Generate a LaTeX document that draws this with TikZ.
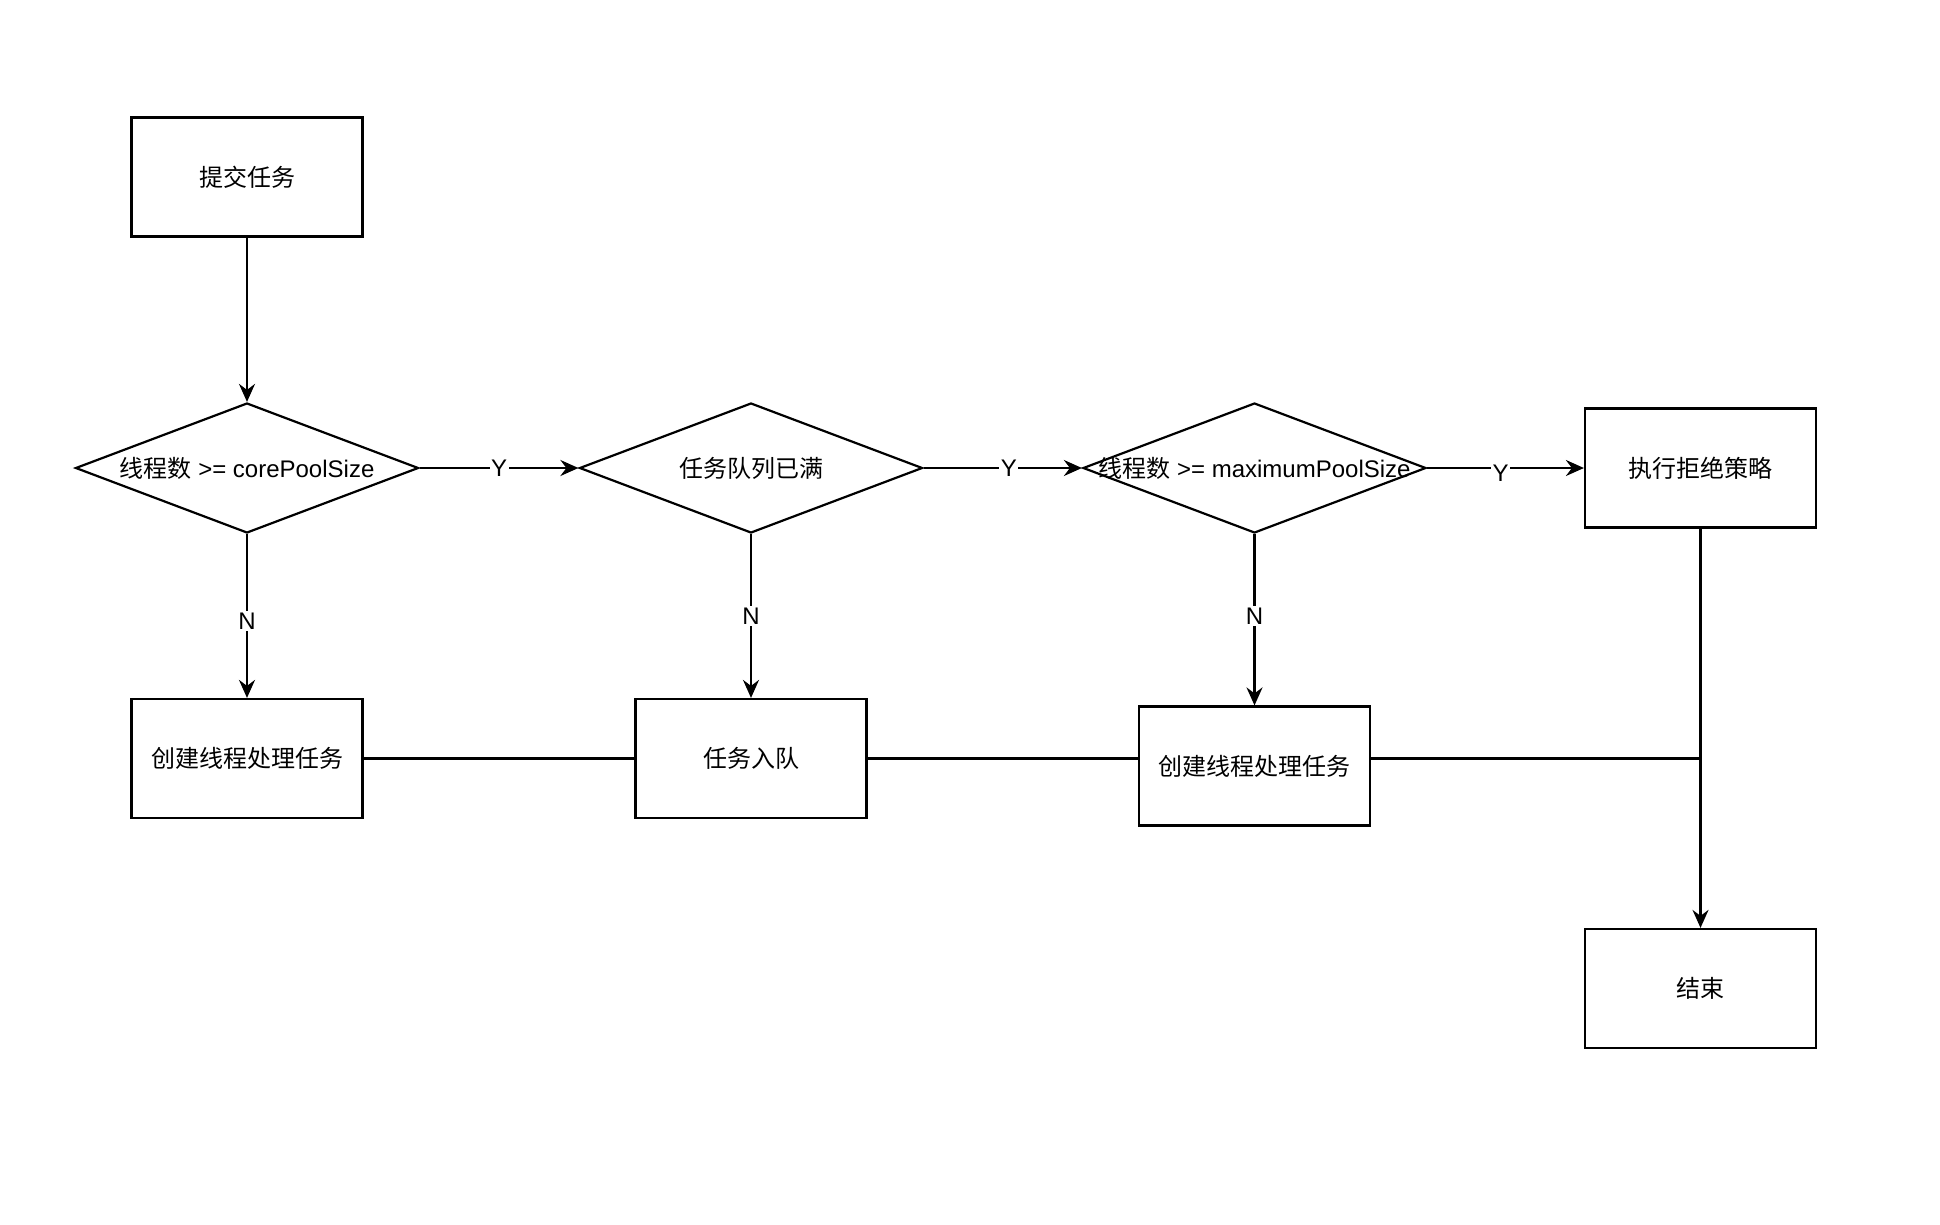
\documentclass[tikz,border=0pt]{standalone}
\usepackage{fontspec}
\setmainfont{Liberation Sans}
\newfontfamily\cjk{Noto Sans CJK SC}
\usetikzlibrary{shapes.geometric,arrows.meta}
\begin{document}
\begin{tikzpicture}[x=1pt,y=-1pt,
  box/.style={draw, line width=2.2pt, minimum width=231pt, minimum height=119pt, inner sep=0pt, font=\cjk\fontsize{24}{29}\selectfont},
  dia/.style={draw, diamond, line width=2.2pt, minimum width=343pt, minimum height=130pt, inner sep=0pt},
  dtxt/.style={inner sep=0pt, font=\fontsize{24}{29}\selectfont},
  arr/.style={line width=2.2pt, -{Stealth[length=18pt,width=16pt,inset=6pt]}},
  ln/.style={line width=2.2pt},
  lbl/.style={fill=white, inner sep=1.5pt, font=\fontsize{24}{29}\selectfont}]
\useasboundingbox[fill=white] (0,0) rectangle (1940,1224);

\node[box] (submit) at (247,177) {提交任务};
\node[dia] (d1) at (247,468) {};
\node[dtxt] (t1) at (d1.center) {{\cjk 线程数} >= corePoolSize};
\node[dia] (d2) at (751,468) {};
\node[dtxt] (t2) at (d2.center) {\cjk 任务队列已满};
\node[dia] (d3) at (1254.5,468) {};
\node[dtxt] (t3) at (d3.center) {{\cjk 线程数} >= maximumPoolSize};
\node[box] (rej) at (1700.5,468) {执行拒绝策略};

\node[box] (c1) at (247,758.5) {创建线程处理任务};
\node[box] (q) at (751,758.5) {任务入队};
\node[box] (c2) at (1254.5,766) {创建线程处理任务};
\node[box] (fin) at (1700.5,988.5) {结束};

\draw[arr] (submit.south) -- (d1.north);
\draw[arr] (d1.east) -- node[lbl] (y1) {Y} (d2.west);
\draw[arr] (d2.east) -- node[lbl, xshift=6pt] (y2) {Y} (d3.west);
\draw[arr] (d3.east) -- node[lbl, yshift=-5pt, xshift=-5pt] (y3) {Y} (rej.west);

\draw[arr] (d1.south) -- node[lbl, yshift=-5pt] (n1) {N} (c1.north);
\draw[arr] (d2.south) -- node[lbl] (n2) {N} (q.north);
\draw[arr] (d3.south) -- node[lbl, yshift=4pt] (n3) {N} (c2.north);

\coordinate (j) at (rej.south |- q.east);
\draw[ln] (c1.east) -- (q.west);
\draw[ln] (q.east) -- (q.east -| c2.west);
\draw[ln] (c2.east |- q.east) -- (j);
\draw[arr] (rej.south) -- (fin.north);
\end{tikzpicture}
\end{document}
